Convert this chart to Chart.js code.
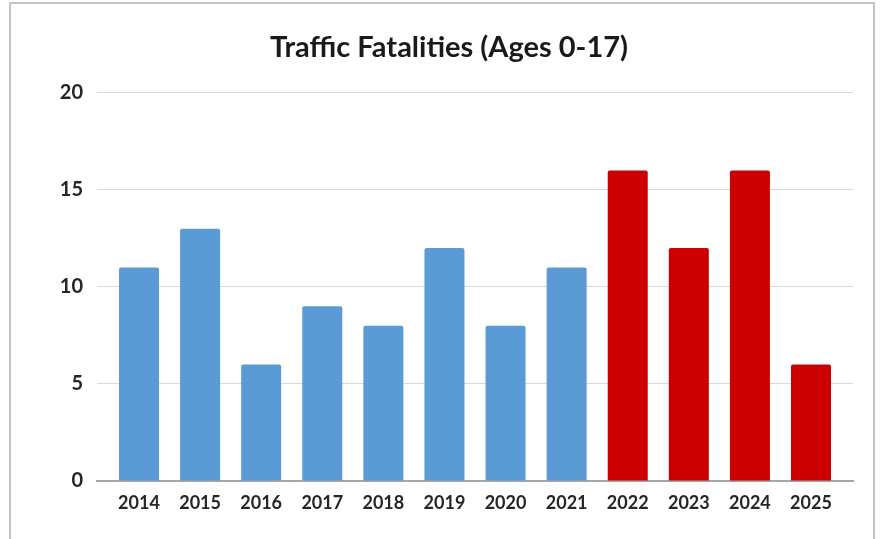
<!DOCTYPE html>
<html>
<head>
<meta charset="utf-8">
<script src="https://cdn.jsdelivr.net/npm/chart.js@4.4.1/dist/chart.umd.min.js"></script>
<style>
    html, body { margin: 0; padding: 0; background: #fff; }
    #wrap { position: relative; width: 880px; height: 539px; overflow: hidden; }
    #frame {
        position: absolute; left: 9px; top: 2px; width: 866px; height: 600px;
        border: 2px solid #c4c4c4; box-sizing: border-box;
    }
    #chartBox { position: absolute; left: 0; top: 0; width: 880px; height: 539px; }
</style>
</head>
<body>
<div id="wrap">
    <div id="frame"></div>
    <div id="chartBox"><canvas id="fatalChart"></canvas></div>
</div>
<script>
// data
const years = [2014, 2015, 2016, 2017, 2018, 2019, 2020, 2021, 2022, 2023, 2024, 2025];
const fatalities = [11, 13, 6, 9, 8, 12, 8, 11, 16, 12, 16, 6];
const yTicks = [0, 5, 10, 15, 20];
const highlightFrom = 2022;

const FONT = "Lato, 'Open Sans', sans-serif";

document.addEventListener('DOMContentLoaded', function () {
    const canvas = document.getElementById('fatalChart');

    new Chart(canvas, {
        type: 'bar',
        data: {
            datasets: [{
                label: 'Traffic Fatalities',
                data: fatalities.map((v, i) => ({ x: i, y: v })),
                backgroundColor: years.map(y => y >= highlightFrom ? '#cc0000' : '#5b9bd5'),
                borderWidth: 0,
                borderRadius: 2,
                borderSkipped: 'bottom',
                categoryPercentage: 1,
                barPercentage: 0.655
            }]
        },
        options: {
            responsive: true,
            maintainAspectRatio: false,
            animation: false,
            // left padding shifts the centred title to where it sits in the original
            layout: { padding: { left: 45, right: 27, top: 0, bottom: 0 } },
            plugins: {
                legend: { display: false },
                tooltip: { enabled: false },
                title: {
                    display: true,
                    text: 'Traffic Fatalities (Ages 0-17)',
                    color: '#1a1a1a',
                    font: { family: FONT, size: 29, weight: 'bold' },
                    padding: { top: 30, bottom: 28 }
                }
            },
            scales: {
                x: {
                    type: 'linear',
                    offset: false,
                    min: -0.6875,
                    max: years.length - 1 + 0.6875,
                    grid: { display: false, offset: false },
                    border: { display: true, color: '#a6a6a6', width: 2 },
                    ticks: {
                        stepSize: 1,
                        includeBounds: false,
                        autoSkip: false,
                        maxRotation: 0,
                        padding: 3,
                        color: '#262626',
                        font: { family: FONT, size: 18, weight: 'bold' },
                        callback: val => years[val] !== undefined ? String(years[val]) : ''
                    },
                    afterFit: scale => { scale.height = 58; }
                },
                y: {
                    min: 0,
                    max: 20,
                    afterBuildTicks: scale => { scale.ticks = yTicks.map(v => ({ value: v })); },
                    grid: { color: '#d9d9d9', lineWidth: 1, drawTicks: false },
                    border: { display: false },
                    ticks: {
                        padding: 14,
                        color: '#262626',
                        font: { family: FONT, size: 20, weight: 'bold' }
                    },
                    afterFit: scale => { scale.width = 52; }
                }
            }
        }
    });
});
</script>
</body>
</html>
